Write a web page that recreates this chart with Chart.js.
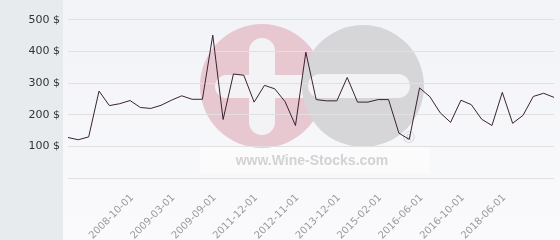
<!DOCTYPE html>
<html>
<head>
<meta charset="utf-8">
<script src="https://cdn.jsdelivr.net/npm/chart.js@4.4.1/dist/chart.umd.min.js"></script>
<style>
  html,body{margin:0;padding:0;background:#fff;}
  #wrap{width:560px;height:240px;}
</style>
</head>
<body>
<div id="wrap"><canvas id="chartPreco" width="560" height="240"></canvas></div>
<script>
/***** 1) DADOS *****/
// só as datas visíveis no eixo; as outras ficam vazias
const dates = [
  "", "", "", "", "", "", "2008-10-01", "", "", "",
  "2009-03-01", "", "", "", "2009-09-01", "", "", "", "2011-12-01", "",
  "", "", "2012-11-01", "", "", "", "2013-12-01", "", "", "",
  "2015-02-01", "", "", "", "2016-06-01", "", "", "", "2016-10-01", "",
  "", "", "2018-06-01", "", "", "", "", ""
];
const prices = [
  128, 121, 130, 275, 229, 235, 245, 223, 220, 230,
  246, 260, 249, 249, 452, 185, 329, 325, 240, 293,
  282, 241, 166, 398, 248, 244, 244, 318, 240, 240,
  248, 248, 142, 122, 285, 257, 206, 176, 246, 232,
  186, 166, 271, 173, 198, 258, 268, 255
];
const yTicks = [0, 100, 200, 300, 400, 500];
const yMax = 563;
const currency = " $";

/***** 2) CORES *****/
const PANEL_BG = "#e8ebee";
const LINE_COLOR = "#3a2230";
const GRID_COLOR = "#e0e0e2";

/***** 3) PLUGINS (fundo + marca d'água) *****/
function pill(ctx, x, y, w, h){
  const r = Math.min(w, h) / 2;
  ctx.beginPath();
  ctx.roundRect(x, y, w, h, r);
  ctx.fill();
}

const bgPlugin = {
  id: "bg",
  beforeDraw(chart){
    const ctx = chart.ctx, W = chart.width, H = chart.height;
    ctx.save();
    const g = ctx.createLinearGradient(0, 0, 0, H);
    g.addColorStop(0, "#f2f3f7");
    g.addColorStop(1, "#fafafc");
    ctx.fillStyle = g;
    ctx.fillRect(63, 0, W - 63, H);
    ctx.fillStyle = PANEL_BG;
    ctx.fillRect(0, 0, 63, H);

    // marca d'água
    ctx.fillStyle = "rgba(255,255,255,0.45)";
    ctx.fillRect(200, 147, 230, 26);
    ctx.fillStyle = "#e7c8d1";
    ctx.beginPath(); ctx.arc(262, 86, 62, 0, Math.PI * 2); ctx.fill();
    ctx.fillStyle = "#f3f3f6";
    pill(ctx, 249, 38, 26, 97);
    pill(ctx, 215, 75, 100, 23);
    ctx.fillStyle = "#d6d6d8";
    ctx.beginPath(); ctx.arc(363, 86, 61, 0, Math.PI * 2); ctx.fill();
    ctx.fillStyle = "#f3f3f6";
    pill(ctx, 308, 74, 102, 24);
    ctx.fillStyle = "#d3d3d5";
    ctx.font = "bold 14px 'Liberation Sans', Arial, sans-serif";
    ctx.textAlign = "center";
    ctx.textBaseline = "middle";
    ctx.fillText("www.Wine-Stocks.com", 312, 161);
    ctx.font = "16px 'Liberation Sans', Arial, sans-serif";
    ctx.fillText("\u00AE", 409, 139);
    ctx.restore();
  }
};

/***** 4) GRÁFICO *****/
const chartPreco = new Chart(document.getElementById("chartPreco"), {
  type: "line",
  data: {
    labels: dates,
    datasets: [{
      data: prices,
      borderColor: LINE_COLOR,
      borderWidth: 1,
      pointRadius: 0,
      tension: 0,
      fill: false
    }]
  },
  options: {
    responsive: false,
    animation: false,
    layout: { padding: { top: 0, left: 0, right: 6, bottom: 0 } },
    plugins: { legend: { display: false }, tooltip: { enabled: false } },
    scales: {
      x: {
        grid: { display: false, drawTicks: false },
        border: { display: false },
        ticks: {
          autoSkip: false, minRotation: 45, maxRotation: 45, padding: 14, labelOffset: 2,
          color: "#9a9a9a", font: { family: "DejaVu Sans", size: 10 }
        },
        afterFit: (s) => {
          s.height = 62;
          s.paddingLeft = 0; s.paddingRight = 0;
        }
      },
      y: {
        min: 0, max: yMax,
        grid: { color: GRID_COLOR, drawTicks: false },
        border: { display: false },
        ticks: {
          padding: 8, color: "#333",
          font: { family: "DejaVu Sans", size: 11 },
          callback: (v) => v === 0 ? "" : v + currency
        },
        afterBuildTicks: (s) => { s.ticks = yTicks.map(v => ({ value: v })); },
        afterFit: (s) => {
          s.width = 68;
          s.paddingTop = 0; s.paddingBottom = 0;
        }
      }
    }
  },
  plugins: [bgPlugin]
});
</script>
</body>
</html>
